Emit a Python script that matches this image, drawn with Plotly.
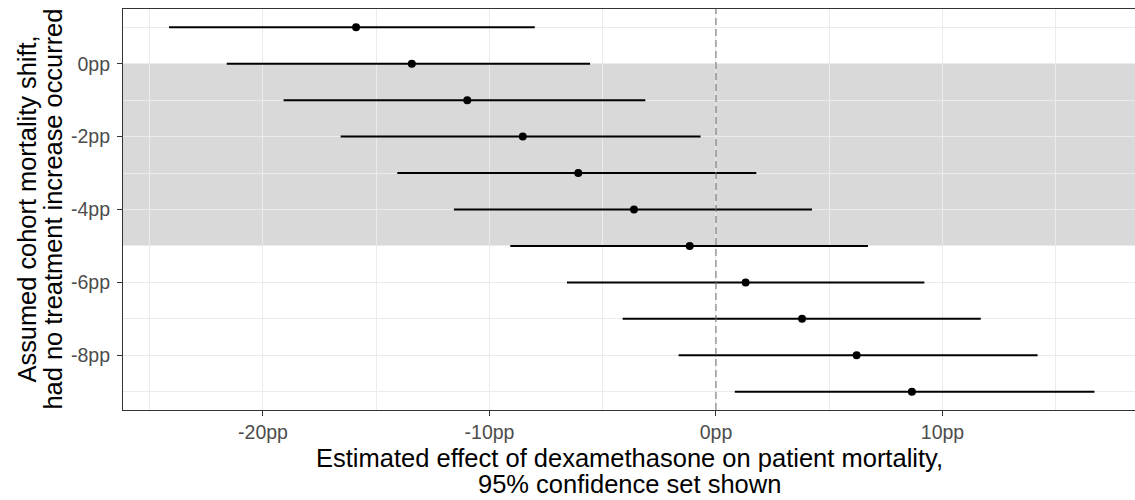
import plotly.graph_objects as go

# Assumed cohort mortality shift (pp)
shift = [1, 0, -1, -2, -3, -4, -5, -6, -7, -8, -9]
# Estimated effect (pp) and 95% confidence bounds
estimate = [-15.89, -13.43, -10.98, -8.53, -6.08, -3.62, -1.16, 1.31, 3.80, 6.21, 8.65]
ci_low = [-24.15, -21.60, -19.09, -16.57, -14.07, -11.57, -9.08, -6.58, -4.12, -1.65, 0.83]
ci_high = [-8.00, -5.56, -3.12, -0.68, 1.78, 4.24, 6.71, 9.20, 11.69, 14.20, 16.71]

x_tickvals = [-20, -10, 0, 10]
x_ticktext = ["-20pp", "-10pp", "0pp", "10pp"]
x_minorvals = [-25, -15, -5, 5, 15]
y_tickvals = [0, -2, -4, -6, -8]
y_ticktext = ["0pp", "-2pp", "-4pp", "-6pp", "-8pp"]
y_minorvals = [1, -1, -3, -5, -7, -9]

shade_top, shade_bottom = 0, -5

x_title = ["Estimated effect of dexamethasone on patient mortality,", "95% confidence set shown"]
y_title = ["Assumed cohort mortality shift,", "had no treatment increase occurred"]

FONT = "Liberation Sans, Arial, sans-serif"

fig = go.Figure()
fig.add_trace(go.Scatter(
    x=estimate, y=shift, mode="markers",
    marker=dict(color="black", size=8),
    error_x=dict(type="data", symmetric=False,
                 array=[h - e for h, e in zip(ci_high, estimate)],
                 arrayminus=[e - l for e, l in zip(estimate, ci_low)],
                 color="black", thickness=2, width=0),
    showlegend=False, hoverinfo="x+y",
))

fig.add_shape(type="rect", xref="paper", x0=0, x1=1, yref="y", y0=shade_bottom, y1=shade_top,
              fillcolor="rgba(0,0,0,0.15)", line=dict(width=0), layer="between")
fig.add_shape(type="line", xref="x", x0=0, x1=0, yref="paper", y0=0, y1=1,
              line=dict(color="rgba(110,110,110,0.65)", width=1.6, dash="7px,4px"), layer="above")

axis_common = dict(
    showgrid=True, gridcolor="#EBEBEB", gridwidth=1.1, zeroline=False,
    showline=True, linecolor="#333333", linewidth=1.1, mirror=True,
    ticks="outside", ticklen=5, tickwidth=1.1, tickcolor="#333333",
    tickfont=dict(family=FONT, size=19.5, color="#4D4D4D"),
)

fig.update_xaxes(range=[-26.18, 18.5], tickmode="array", tickvals=x_tickvals, ticktext=x_ticktext,
                 minor=dict(tickmode="array", tickvals=x_minorvals, showgrid=True,
                            gridcolor="#EBEBEB", gridwidth=0.55, ticks=""),
                 **axis_common)
fig.update_yaxes(range=[-9.5, 1.5], tickmode="array", tickvals=y_tickvals, ticktext=y_ticktext,
                 minor=dict(tickmode="array", tickvals=y_minorvals, showgrid=True,
                            gridcolor="#EBEBEB", gridwidth=0.55, ticks=""),
                 ticklabelstandoff=3,
                 **axis_common)

for text, shift_px in zip(x_title, [-48, -74]):
    fig.add_annotation(text=text, xref="paper", yref="paper", x=0.5, y=0,
                       xanchor="center", yanchor="middle", yshift=shift_px, showarrow=False,
                       font=dict(family=FONT, size=25.5, color="black"))
for text, shift_px in zip(y_title, [-97, -71]):
    fig.add_annotation(text=text, xref="paper", yref="paper", x=0, y=0.5,
                       xanchor="center", yanchor="middle", xshift=shift_px, textangle=-90,
                       showarrow=False, font=dict(family=FONT, size=25.4, color="black"))

fig.update_layout(
    width=1135, height=500,
    margin=dict(l=123, r=0, t=9, b=90),
    plot_bgcolor="white", paper_bgcolor="white",
    font=dict(family=FONT),
)

fig.write_html("out.html", config={"displayModeBar": False},
               post_script="document.body.style.margin='0';document.body.style.overflow='hidden';")
